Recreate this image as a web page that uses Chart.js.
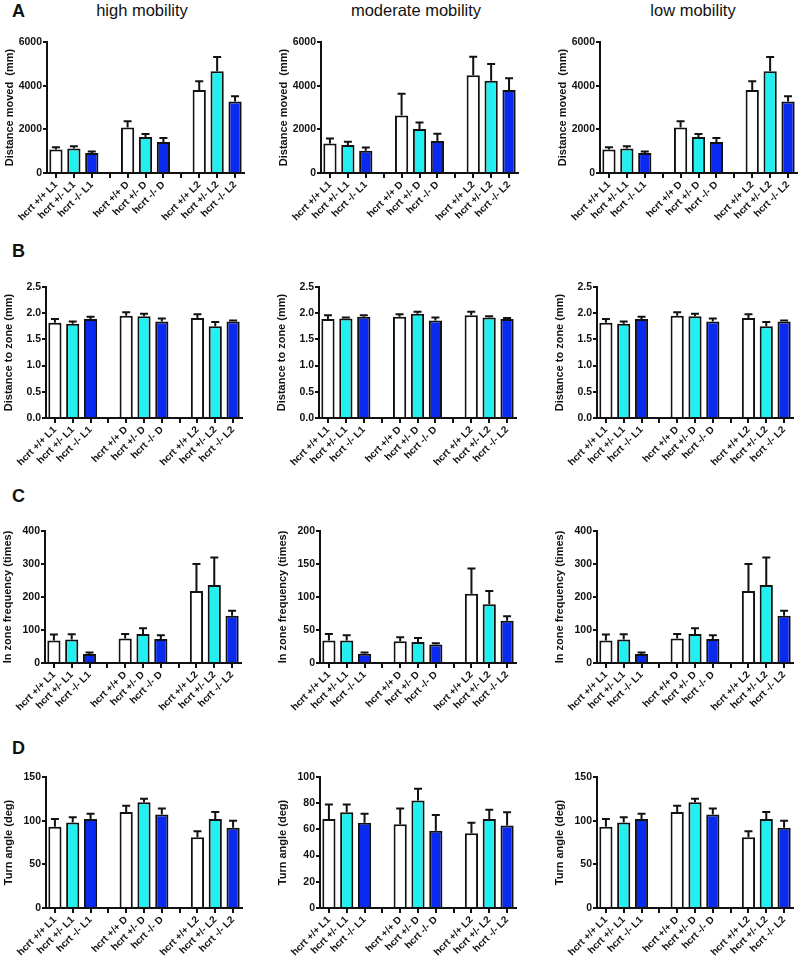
<!DOCTYPE html>
<html>
<head>
<meta charset="utf-8">
<script src="https://cdn.jsdelivr.net/npm/chart.js@4/dist/chart.umd.min.js"></script>
<style>
  body { margin: 0; background: #fff; }
  #page { position: relative; width: 800px; height: 958px; overflow: hidden; font-family: "Liberation Sans", Arial, sans-serif; color: #111; }
  canvas { position: absolute; }
  .colTitle { position: absolute; font-size: 16.5px; white-space: nowrap; transform: translateX(-50%); top: 1px; }
  .panel { position: absolute; font-size: 18px; font-weight: bold; left: 12px; }
</style>
</head>
<body>
<div id="page">
  <div class="colTitle" style="left:142px">high mobility</div>
  <div class="colTitle" style="left:416px">moderate mobility</div>
  <div class="colTitle" style="left:693px">low mobility</div>
  <div class="panel" style="top:1px">A</div>
  <div class="panel" style="top:241px">B</div>
  <div class="panel" style="top:486px">C</div>
  <div class="panel" style="top:738px">D</div>
</div>
<script>
// group labels (gaps between L1 / D / L2 are empty categories)
const groupLabels = ['hcrt +/+ L1', 'hcrt +/- L1', 'hcrt -/- L1', '',
                     'hcrt +/+ D', 'hcrt +/- D', 'hcrt -/- D', '',
                     'hcrt +/+ L2', 'hcrt +/- L2', 'hcrt -/- L2'];
const genotypeColors = ['#ffffff', '#22f0f0', '#0a2af0'];

// Distance moved (mm)
const distHigh = [1080, 1120, 920, 2080, 1650, 1420, 3800, 4660, 3280];
const distHighErr = [100, 100, 70, 290, 140, 180, 400, 650, 240];
const distMod = [1350, 1280, 1020, 2630, 2020, 1460, 4480, 4220, 3800];
const distModErr = [230, 150, 150, 1000, 290, 340, 850, 770, 540];
const distLow = [1080, 1120, 920, 2080, 1650, 1420, 3800, 4660, 3280];
const distLowErr = [100, 100, 70, 290, 140, 180, 400, 650, 240];

// Distance to zone (mm)
const zoneHigh = [1.82, 1.80, 1.89, 1.95, 1.94, 1.84, 1.91, 1.75, 1.84];
const zoneHighErr = [0.07, 0.04, 0.04, 0.07, 0.05, 0.06, 0.07, 0.08, 0.02];
const zoneMod = [1.89, 1.90, 1.93, 1.93, 1.99, 1.86, 1.96, 1.92, 1.89];
const zoneModErr = [0.07, 0.02, 0.03, 0.05, 0.04, 0.06, 0.07, 0.02, 0.02];
const zoneLow = [1.82, 1.80, 1.89, 1.95, 1.94, 1.84, 1.91, 1.75, 1.84];
const zoneLowErr = [0.07, 0.04, 0.04, 0.07, 0.05, 0.06, 0.07, 0.08, 0.02];

// In zone frequency (times)
const freqHigh = [68, 71, 27, 74, 88, 73, 218, 236, 143];
const freqHighErr = [18, 16, 5, 14, 17, 11, 82, 84, 15];
const freqMod = [34, 34, 14, 33, 32, 28, 105, 89, 64];
const freqModErr = [10, 8, 2, 6, 6, 2, 38, 20, 7];
const freqLow = [68, 71, 27, 74, 88, 73, 218, 236, 143];
const freqLowErr = [18, 16, 5, 14, 17, 11, 82, 84, 15];

// Turn angle (deg)
const turnHigh = [93, 98, 102, 110, 121, 107, 81, 102, 92];
const turnHighErr = [9, 6, 6, 7, 4, 7, 7, 8, 8];
const turnMod = [68, 73, 65, 64, 82, 59, 57, 68, 63];
const turnModErr = [11, 6, 7, 12, 9, 12, 8, 7, 10];
const turnLow = [93, 98, 102, 110, 121, 107, 81, 102, 92];
const turnLowErr = [9, 6, 6, 7, 4, 7, 7, 8, 8];

Chart.defaults.font.family = '"Liberation Sans", Arial, sans-serif';
Chart.defaults.color = '#111';

function withGaps(arr) {
    return [...arr.slice(0, 3), null, ...arr.slice(3, 6), null, ...arr.slice(6)];
}

// draws the upper whisker + cap for every bar
const errorBars = {
    id: 'errorBars',
    afterDatasetsDraw(chart) {
        const ctx = chart.ctx;
        const ds = chart.data.datasets[0];
        const yScale = chart.scales.y;
        ctx.save();
        ctx.strokeStyle = '#111';
        ctx.lineWidth = 2;
        chart.getDatasetMeta(0).data.forEach((bar, i) => {
            const v = ds.data[i];
            if (v == null) return;
            const yTop = yScale.getPixelForValue(v + ds.errors[i]);
            ctx.beginPath();
            ctx.moveTo(bar.x, bar.y);
            ctx.lineTo(bar.x, yTop);
            ctx.moveTo(bar.x - 4, yTop);
            ctx.lineTo(bar.x + 4, yTop);
            ctx.stroke();
        });
        ctx.restore();
    }
};

const PAD_L = 14, Y_W = 46, PAD_T = 8, X_H = 62, PAD_R = 6;

function makeChart(plotLeft, plotTop, plotW, plotH, values, errs, max, step, yTitle, decimals) {
    const canvas = document.createElement('canvas');
    const w = PAD_L + Y_W + plotW + PAD_R;
    const h = PAD_T + plotH + X_H;
    canvas.width = w;
    canvas.height = h;
    canvas.style.left = (plotLeft - PAD_L - Y_W) + 'px';
    canvas.style.top = (plotTop - PAD_T) + 'px';
    document.getElementById('page').appendChild(canvas);

    const colors = withGaps([0, 1, 2, 0, 1, 2, 0, 1, 2].map(k => genotypeColors[k]));

    new Chart(canvas.getContext('2d'), {
        type: 'bar',
        data: {
            labels: groupLabels,
            datasets: [{
                data: withGaps(values),
                errors: withGaps(errs),
                backgroundColor: colors,
                borderColor: '#111',
                borderWidth: 2,
                barPercentage: 0.74,
                categoryPercentage: 1
            }]
        },
        options: {
            responsive: false,
            animation: false,
            layout: { padding: { left: PAD_L, top: PAD_T, right: PAD_R, bottom: 0 } },
            plugins: { legend: { display: false }, tooltip: { enabled: false } },
            scales: {
                x: {
                    offset: true,
                    grid: { display: true, drawOnChartArea: false, offset: false, tickLength: 5, color: '#111', lineWidth: 2 },
                    border: { color: '#111', width: 2 },
                    ticks: { autoSkip: false, minRotation: 45, maxRotation: 45, padding: 1,
                             font: { size: 10, weight: 'bold' } },
                    afterFit(scale) {
                        scale.height = X_H;
                        scale.paddingLeft = 0; scale.paddingRight = 0;
                    }
                },
                y: {
                    min: 0, max: max,
                    grid: { display: true, drawOnChartArea: false, tickLength: 4, color: '#111', lineWidth: 2 },
                    border: { color: '#111', width: 2 },
                    ticks: { stepSize: step, padding: 1, font: { size: 10.5, weight: 'bold' },
                             callback: v => v.toFixed(decimals) },
                    title: { display: true, text: yTitle, font: { size: 11, weight: 'bold' }, padding: { top: 2, bottom: 2 } },
                    afterFit(scale) {
                        scale.width = Y_W;
                        scale.paddingTop = 0; scale.paddingBottom = 0;
                    }
                }
            }
        },
        plugins: [errorBars]
    });
}

// row A
makeChart(47, 42, 197, 131, distHigh, distHighErr, 6000, 2000, 'Distance moved  (mm)', 0);
makeChart(321, 42, 197, 131, distMod, distModErr, 6000, 2000, 'Distance moved  (mm)', 0);
makeChart(600, 42, 197, 131, distLow, distLowErr, 6000, 2000, 'Distance moved  (mm)', 0);
// row B
makeChart(46, 287, 196, 131, zoneHigh, zoneHighErr, 2.5, 0.5, 'Distance to zone (mm)', 1);
makeChart(319, 287, 197, 131, zoneMod, zoneModErr, 2.5, 0.5, 'Distance to zone (mm)', 1);
makeChart(597, 287, 196, 131, zoneLow, zoneLowErr, 2.5, 0.5, 'Distance to zone (mm)', 1);
// row C
makeChart(45, 531, 196, 132, freqHigh, freqHighErr, 400, 100, 'In zone frequency (times)', 0);
makeChart(320, 531, 196, 132, freqMod, freqModErr, 200, 50, 'In zone frequency (times)', 0);
makeChart(597, 531, 196, 132, freqLow, freqLowErr, 400, 100, 'In zone frequency (times)', 0);
// row D
makeChart(46, 777, 196, 131, turnHigh, turnHighErr, 150, 50, 'Turn angle (deg)', 0);
makeChart(320, 777, 196, 131, turnMod, turnModErr, 100, 20, 'Turn angle (deg)', 0);
makeChart(597, 777, 196, 131, turnLow, turnLowErr, 150, 50, 'Turn angle (deg)', 0);
</script>
</body>
</html>
